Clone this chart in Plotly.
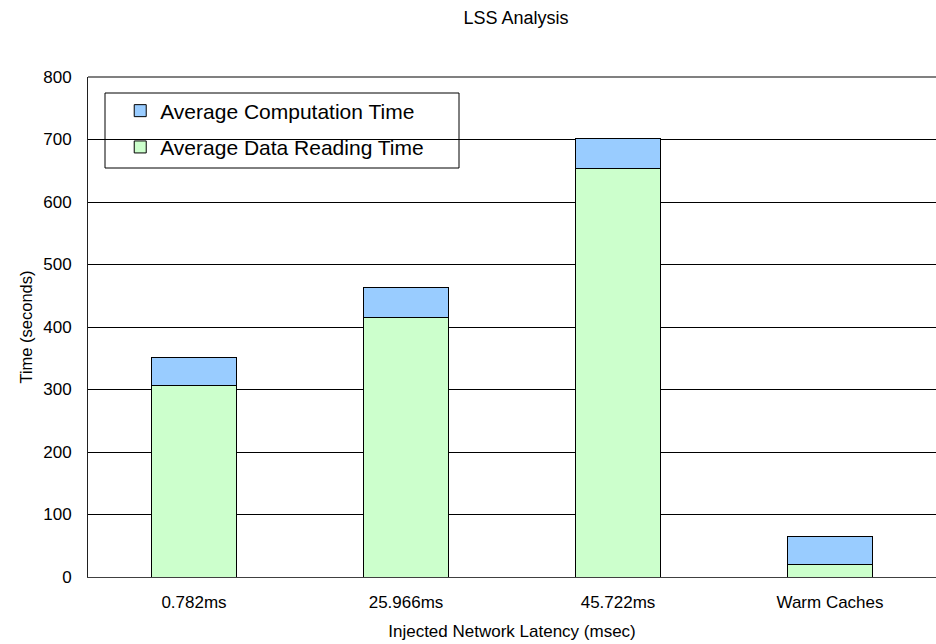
import plotly.graph_objects as go

# Stacked timings per injected network latency setting
categories = ["0.782ms", "25.966ms", "45.722ms", "Warm Caches"]
data_reading_time = [307, 415, 653, 20]
computation_time = [44.5, 48.5, 48, 45.5]
y_ticks = [0, 100, 200, 300, 400, 500, 600, 700, 800]

FONT = "Liberation Sans, Arial, sans-serif"

fig = go.Figure()
fig.add_trace(go.Bar(
    x=categories, y=data_reading_time, name="Average Data Reading Time",
    legendgroup="read", legendrank=2,
    marker=dict(color="#CCFFCC", line=dict(color="#000000", width=1)),
))
fig.add_trace(go.Bar(
    x=categories, y=computation_time, name="Average Computation Time",
    legendgroup="comp", legendrank=1,
    marker=dict(color="#99CCFF", line=dict(color="#000000", width=1)),
))

fig.update_layout(
    width=936, height=644,
    margin=dict(l=88, r=0, t=77, b=67),
    paper_bgcolor="white", plot_bgcolor="white",
    barmode="stack", bargap=0.597,
    font=dict(family=FONT, color="#000000", size=16),
    title=dict(text="LSS Analysis", x=516 / 936, xanchor="center",
               y=1 - 18 / 644, yanchor="middle",
               font=dict(family=FONT, size=18, color="#000000")),
    showlegend=True,
    legend=dict(
        traceorder="grouped", tracegroupgap=6,
        x=0.038, xanchor="left", y=0.973, yanchor="top",
        bgcolor="rgba(0,0,0,0)", borderwidth=0,
        font=dict(family=FONT, size=21, color="#000000"),
    ),
    shapes=[
        # legend frame
        dict(type="rect", xref="paper", yref="paper",
             x0=(105 - 88) / 848, x1=(459 - 88) / 848,
             y0=(577 - 168) / 500, y1=(577 - 93) / 500,
             line=dict(color="#000000", width=1), fillcolor="white",
             layer="below"),
        # plot area top border
        dict(type="line", xref="paper", yref="paper", x0=0, x1=1, y0=1, y1=1,
             line=dict(color="#808080", width=2), layer="above"),
    ],
)

fig.update_xaxes(
    showline=True, linecolor="#404040", linewidth=1,
    showgrid=False, ticks="", ticklabelstandoff=10,
    tickfont=dict(family=FONT, size=17),
    title=dict(text="Injected Network Latency (msec)", standoff=13,
               font=dict(family=FONT, size=17)),
)
fig.update_yaxes(
    range=[0, 800], tickvals=y_ticks,
    showline=True, linecolor="#202020", linewidth=1,
    showgrid=True, gridcolor="#000000", gridwidth=1,
    zeroline=False, ticks="", ticklabelstandoff=12,
    tickfont=dict(family=FONT, size=17),
    title=dict(text="Time (seconds)", standoff=6,
               font=dict(family=FONT, size=16.5)),
)

fig.write_html("out.html")
